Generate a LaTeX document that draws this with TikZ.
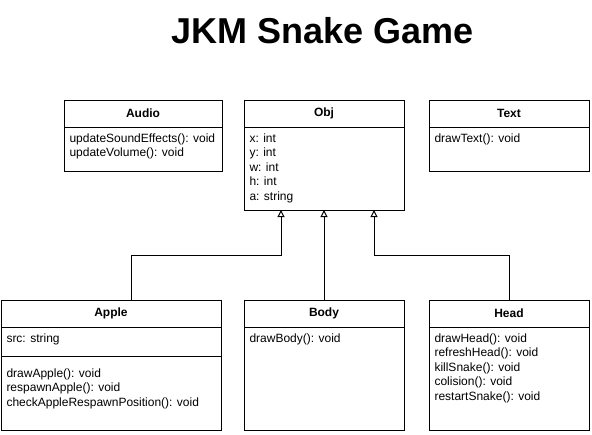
\documentclass[tikz,border=0pt]{standalone}
\usepackage{fontspec}
\setmainfont{Liberation Sans}
\usetikzlibrary{arrows.meta,positioning}
\newcommand{\umlfont}{\fontsize{12}{14.4}\selectfont}

\begin{document}
\begin{tikzpicture}[x=1pt,y=-1pt,line width=1pt,
  classhd/.style={draw,outer sep=0pt,inner sep=0pt,minimum height=27pt,font=\umlfont\bfseries},
  compart/.style={draw,outer sep=0pt,inner sep=0pt},
  members/.style={anchor=north west,align=left,inner xsep=5pt,inner ysep=5pt,font=\umlfont},
  inherit/.style={-{Triangle[open,length=7pt,width=7pt]}},
]
  \useasboundingbox (0,0) rectangle (592,434);

  % title
  \node[font=\fontsize{36}{43}\selectfont\bfseries] (title) at (323,31) {JKM Snake Game};

  % top row
  \node[classhd,minimum width=158pt] (audio) at (143,113.5) {Audio};
  \node[compart,minimum width=158pt,minimum height=44pt,below=0pt of audio] (audiof) {};
  \node[members] at (audiof.north west) {\strut updateSoundEffects(): void\\updateVolume(): void};

  \node[classhd,minimum width=160pt] (obj) at (324,113.5) {Obj};
  \node[compart,minimum width=160pt,minimum height=83pt,below=0pt of obj] (objf) {};
  \node[members] at (objf.north west) {\strut x: int\\y: int\\w: int\\h: int\\a: string};

  \node[classhd,minimum width=160pt] (text) at (509,113.5) {Text};
  \node[compart,minimum width=160pt,minimum height=44pt,below=0pt of text] (textf) {};
  \node[members] at (textf.north west) {\strut drawText(): void};

  % bottom row
  \node[classhd,minimum width=220pt] (apple) at (111,313.5) {Apple};
  \node[compart,minimum width=220pt,minimum height=29pt,below=0pt of apple] (applea) {};
  \node[members] at (applea.north west) {\strut src: string};
  \node[compart,minimum width=220pt,minimum height=74pt,below=0pt of applea] (applem) {};
  \node[members,inner ysep=11pt] at (applem.north west) {\strut drawApple(): void\\respawnApple(): void\\checkAppleRespawnPosition(): void};

  \node[classhd,minimum width=160pt] (body) at (324,313.5) {Body};
  \node[compart,minimum width=160pt,minimum height=103pt,below=0pt of body] (bodyf) {};
  \node[members] at (bodyf.north west) {\strut drawBody(): void};

  \node[classhd,minimum width=160pt] (head) at (509,313.5) {Head};
  \node[compart,minimum width=160pt,minimum height=103pt,below=0pt of head] (headf) {};
  \node[members] at (headf.north west) {\strut drawHead(): void\\refreshHead(): void\\killSnake(): void\\colision(): void\\restartSnake(): void};

  % inheritance
  \draw[inherit] ([xshift=20pt]apple.north) -- ++(0,-45) -| ([xshift=-43pt]objf.south);
  \draw[inherit] (body.north) -- (objf.south);
  \draw[inherit] (head.north) -- ++(0,-45) -| ([xshift=50pt]objf.south);
\end{tikzpicture}
\end{document}
